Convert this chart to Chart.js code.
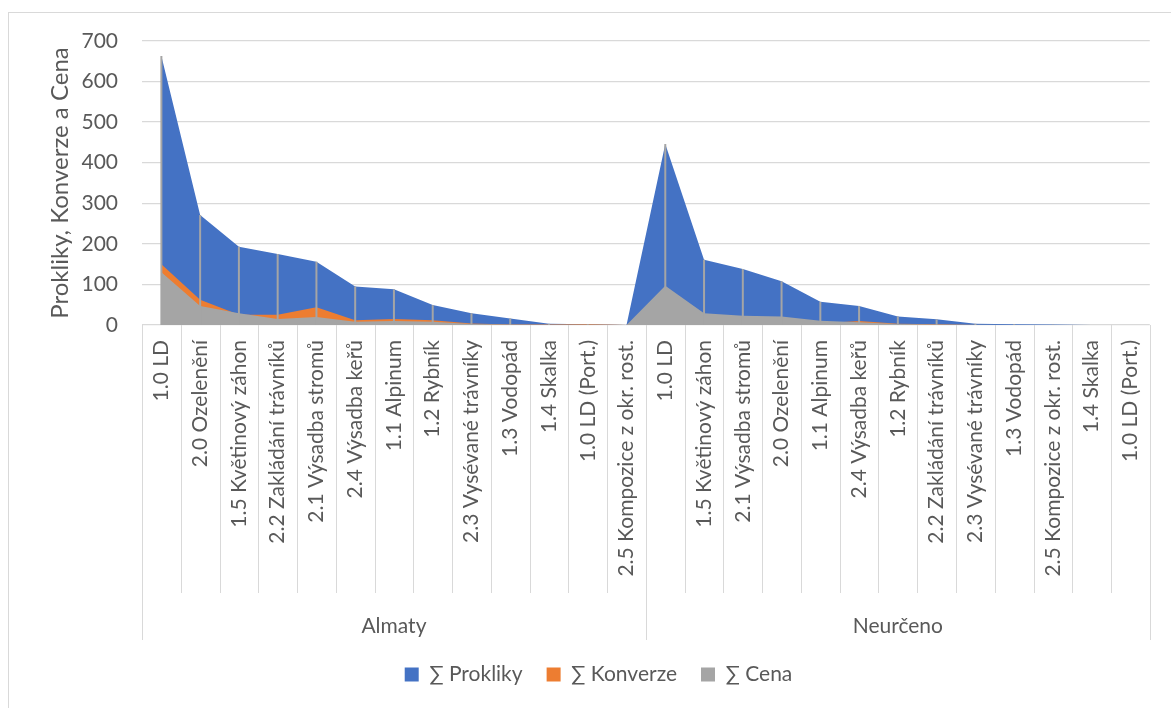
<!DOCTYPE html>
<html>
<head>
<meta charset="utf-8">
<script src="https://cdn.jsdelivr.net/npm/chart.js@4.4.3/dist/chart.umd.min.js"></script>
<style>
    html, body { margin: 0; padding: 0; background: #fff; overflow: hidden; }
    #frame { position: absolute; left: 8px; top: 12px; width: 1300px; height: 900px; border: 1px solid #d9d9d9; }
    #wrap { position: absolute; left: 0; top: 0; width: 1171px; height: 708px; }
</style>
</head>
<body>
<div id="frame"></div>
<div id="wrap"><canvas id="chart"></canvas></div>
<script>
// category groups (outer level of the x axis)
const groups = ['Almaty', 'Neurčeno'];

const almatyCategories = [
    '1.0 LD', '2.0 Ozelenění', '1.5 Květinový záhon', '2.2 Zakládání trávníků',
    '2.1 Výsadba stromů', '2.4 Výsadba keřů', '1.1 Alpinum', '1.2 Rybník',
    '2.3 Vysévané trávníky', '1.3 Vodopád', '1.4 Skalka', '1.0 LD (Port.)',
    '2.5 Kompozice z okr. rost.'
];

const neurcenoCategories = [
    '1.0 LD', '1.5 Květinový záhon', '2.1 Výsadba stromů', '2.0 Ozelenění',
    '1.1 Alpinum', '2.4 Výsadba keřů', '1.2 Rybník', '2.2 Zakládání trávníků',
    '2.3 Vysévané trávníky', '1.3 Vodopád', '2.5 Kompozice z okr. rost.',
    '1.4 Skalka', '1.0 LD (Port.)'
];

const categories = almatyCategories.concat(neurcenoCategories);

// series values (Almaty 13 points, then Neurčeno 13 points)
const prokliky = [663, 271, 193, 175, 156, 95, 88, 49, 29, 16, 3, 2, 0,
                  446, 161, 138, 108, 57, 47, 21, 14, 3, 2, 1, 0, 0];
const konverze = [150, 62, 25, 25, 44, 12, 15, 12, 4, 1, 1, 2, 0,
                  40, 10, 8, 6, 4, 10, 3, 2, 0, 0, 0, 0, 0];
const cena = [130, 47, 29, 15, 20, 8, 10, 8, 2.5, 1, 0.5, 0.5, 0,
              97, 29, 23, 21, 10.5, 7, 2.5, 1, 0.5, 0, 0, 0, 0];

const yMin = 0;
const yMax = 700;
const yStep = 100;

const FONT = 'Lato, "Open Sans", sans-serif';
const TEXT = '#595959';
const GRID = '#d9d9d9';

// drop lines, category dividers and the group row under the labels
const excelAxisPlugin = {
    id: 'excelAxis',
    afterDatasetsDraw(chart) {
        const { ctx, scales: { x, y } } = chart;
        ctx.save();
        ctx.strokeStyle = '#a5a5a5';
        ctx.lineWidth = 2;
        categories.forEach((c, i) => {
            const top = Math.max(prokliky[i], konverze[i], cena[i]);
            if (top <= 0) return;
            const px = x.getPixelForValue(i);
            ctx.beginPath();
            ctx.moveTo(px, y.getPixelForValue(top));
            ctx.lineTo(px, y.getPixelForValue(0));
            ctx.stroke();
        });
        ctx.restore();
    },
    afterDraw(chart) {
        const { ctx, scales: { x } } = chart;
        const step = (x.right - x.left) / categories.length;
        const labelRowBottom = x.top + 268;
        const edges = [0, almatyCategories.length, categories.length];

        ctx.save();
        ctx.strokeStyle = GRID;
        ctx.lineWidth = 1;
        for (let i = 0; i <= categories.length; i++) {
            const px = Math.round(x.left + i * step) + 0.5;
            ctx.beginPath();
            ctx.moveTo(px, x.top);
            ctx.lineTo(px, edges.includes(i) ? x.bottom : labelRowBottom);
            ctx.stroke();
        }

        ctx.fillStyle = TEXT;
        ctx.font = '21px ' + FONT;
        ctx.textAlign = 'center';
        ctx.textBaseline = 'middle';
        const groupY = x.bottom - 14;
        groups.forEach((g, gi) => {
            const x0 = x.left + edges[gi] * step;
            const x1 = x.left + edges[gi + 1] * step;
            ctx.fillText(g, (x0 + x1) / 2, groupY);
        });
        ctx.restore();
    }
};

const ctx = document.getElementById('chart').getContext('2d');
new Chart(ctx, {
    type: 'line',
    data: {
        labels: categories,
        datasets: [
            { label: '∑ Prokliky', data: prokliky, backgroundColor: '#4472c4', borderColor: '#4472c4', order: 3 },
            { label: '∑ Konverze', data: konverze, backgroundColor: '#ed7d31', borderColor: '#ed7d31', order: 2 },
            { label: '∑ Cena', data: cena, backgroundColor: '#a5a5a5', borderColor: '#a5a5a5', order: 1 }
        ].map(ds => Object.assign(ds, { fill: 'origin', borderWidth: 0, pointRadius: 0, tension: 0 }))
    },
    options: {
        responsive: true,
        maintainAspectRatio: false,
        animation: false,
        layout: { padding: { top: 41, right: 20, bottom: 13, left: 46 } },
        plugins: {
            legend: {
                position: 'bottom',
                labels: {
                    boxWidth: 14,
                    boxHeight: 14,
                    padding: 24,
                    color: TEXT,
                    font: { family: FONT, size: 21 },
                    sort: (a, b) => a.datasetIndex - b.datasetIndex
                }
            },
            tooltip: { enabled: false }
        },
        scales: {
            x: {
                type: 'category',
                offset: true,
                grid: { display: false, drawTicks: false },
                border: { display: false },
                ticks: {
                    autoSkip: false,
                    maxRotation: 90,
                    minRotation: 90,
                    padding: 15,
                    color: TEXT,
                    font: { family: FONT, size: 21 }
                },
                afterFit: scale => { scale.height = 315; }
            },
            y: {
                min: yMin,
                max: yMax,
                grid: { color: GRID, lineWidth: 1.3, drawTicks: false },
                border: { display: false },
                ticks: {
                    stepSize: yStep,
                    padding: 24,
                    color: TEXT,
                    font: { family: FONT, size: 21 }
                },
                title: {
                    display: true,
                    text: 'Prokliky, Konverze a Cena',
                    color: TEXT,
                    font: { family: FONT, size: 24 },
                    padding: { top: 0, bottom: 0 }
                },
                afterFit: scale => { scale.width = 96; }
            }
        }
    },
    plugins: [excelAxisPlugin]
});
</script>
</body>
</html>
